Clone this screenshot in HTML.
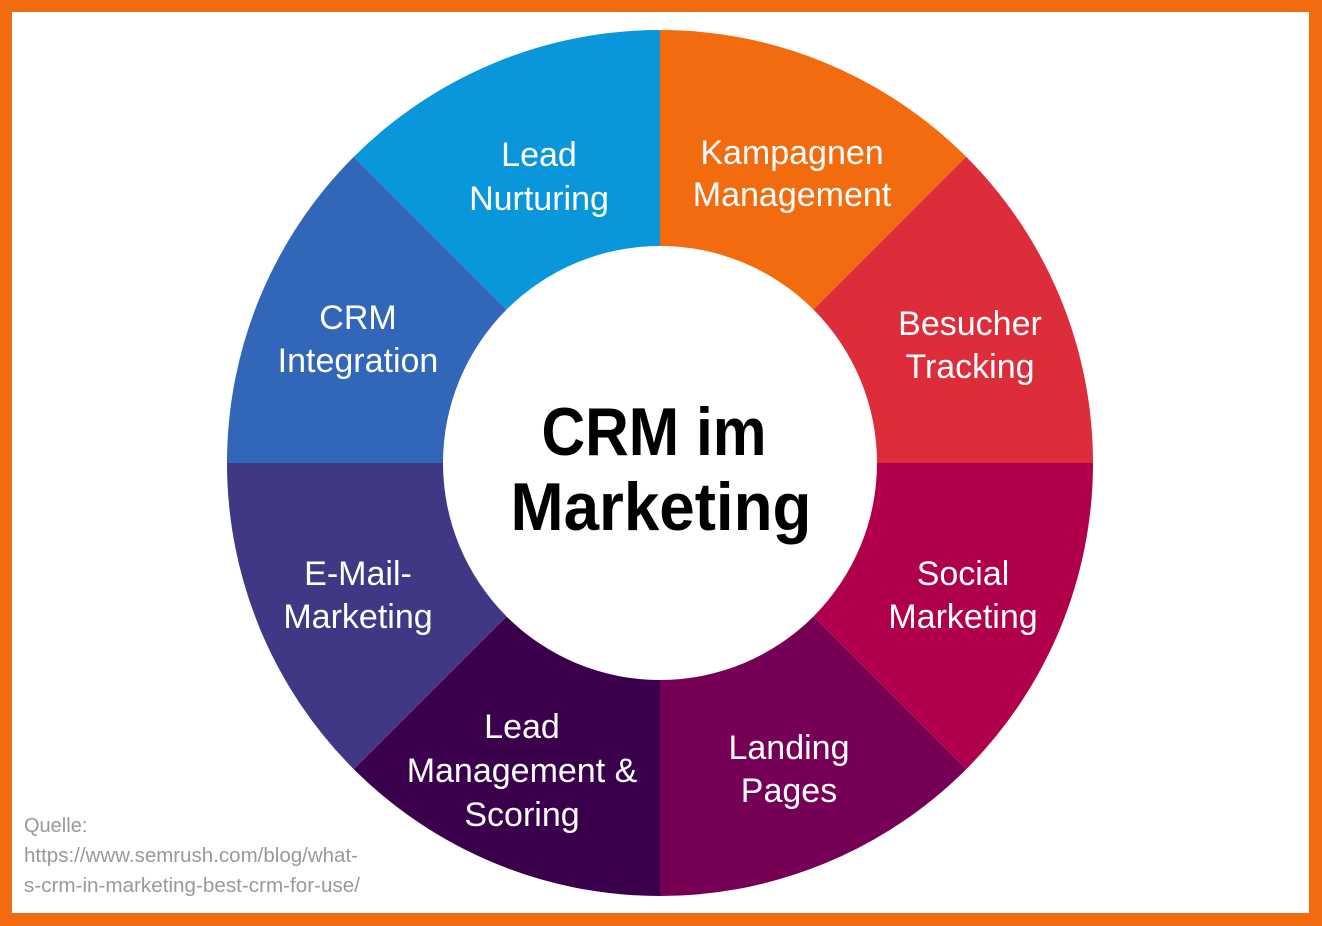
<!DOCTYPE html>
<html><head><meta charset="utf-8"><style>
html,body{margin:0;padding:0;background:#F26B0F;}
svg{display:block}
.l{font-family:"Liberation Sans Narrow","Liberation Sans",sans-serif;font-size:34px;fill:#fff;text-anchor:middle}
.c{font-family:"Liberation Sans",sans-serif;font-weight:bold;font-size:68px;fill:#000;text-anchor:middle}
.s{font-family:"Liberation Sans Narrow","Liberation Sans",sans-serif;font-size:20px;fill:#999}
</style></head><body>
<svg width="1322" height="926" viewBox="0 0 1322 926">
<rect x="0" y="0" width="1322" height="926" fill="#F26B0F"/>
<rect x="12" y="12" width="1297" height="901" fill="#fff"/>
<g>
<path d="M660,463 L660,30 A433,433 0 0 1 966.2,156.8 Z" fill="#F26B0F"/>
<path d="M660,463 L966.2,156.8 A433,433 0 0 1 1093,463 Z" fill="#DE2D3A"/>
<path d="M660,463 L1093,463 A433,433 0 0 1 966.2,769.2 Z" fill="#B0004B"/>
<path d="M660,463 L966.2,769.2 A433,433 0 0 1 660,896 Z" fill="#760055"/>
<path d="M660,463 L660,896 A433,433 0 0 1 353.8,769.2 Z" fill="#3B004B"/>
<path d="M660,463 L353.8,769.2 A433,433 0 0 1 227,463 Z" fill="#403785"/>
<path d="M660,463 L227,463 A433,433 0 0 1 353.8,156.8 Z" fill="#3166B8"/>
<path d="M660,463 L353.8,156.8 A433,433 0 0 1 660,30 Z" fill="#0A96DB"/>
<circle cx="660" cy="463" r="217" fill="#fff"/>
</g>
<text class="l" x="539" y="166">Lead</text><text class="l" x="539" y="210">Nurturing</text>
<text class="l" x="792" y="164">Kampagnen</text><text class="l" x="792" y="206">Management</text>
<text class="l" x="970" y="335">Besucher</text><text class="l" x="970" y="378">Tracking</text>
<text class="l" x="963" y="585">Social</text><text class="l" x="963" y="628">Marketing</text>
<text class="l" x="789" y="759">Landing</text><text class="l" x="789" y="802">Pages</text>
<text class="l" x="522" y="738">Lead</text><text class="l" x="522" y="782">Management &amp;</text><text class="l" x="522" y="826">Scoring</text>
<text class="l" x="358" y="585">E-Mail-</text><text class="l" x="358" y="628">Marketing</text>
<text class="l" x="358" y="329">CRM</text><text class="l" x="358" y="372">Integration</text>
<text class="c" x="654" y="455" textLength="225" lengthAdjust="spacingAndGlyphs">CRM im</text>
<text class="c" x="661" y="530" textLength="301" lengthAdjust="spacingAndGlyphs">Marketing</text>
<text class="s" x="24" y="832">Quelle:</text>
<text class="s" x="24" y="862" textLength="334" lengthAdjust="spacingAndGlyphs">https://www.semrush.com/blog/what-</text>
<text class="s" x="24" y="892" textLength="336" lengthAdjust="spacingAndGlyphs">s-crm-in-marketing-best-crm-for-use/</text>
</svg>
</body></html>
